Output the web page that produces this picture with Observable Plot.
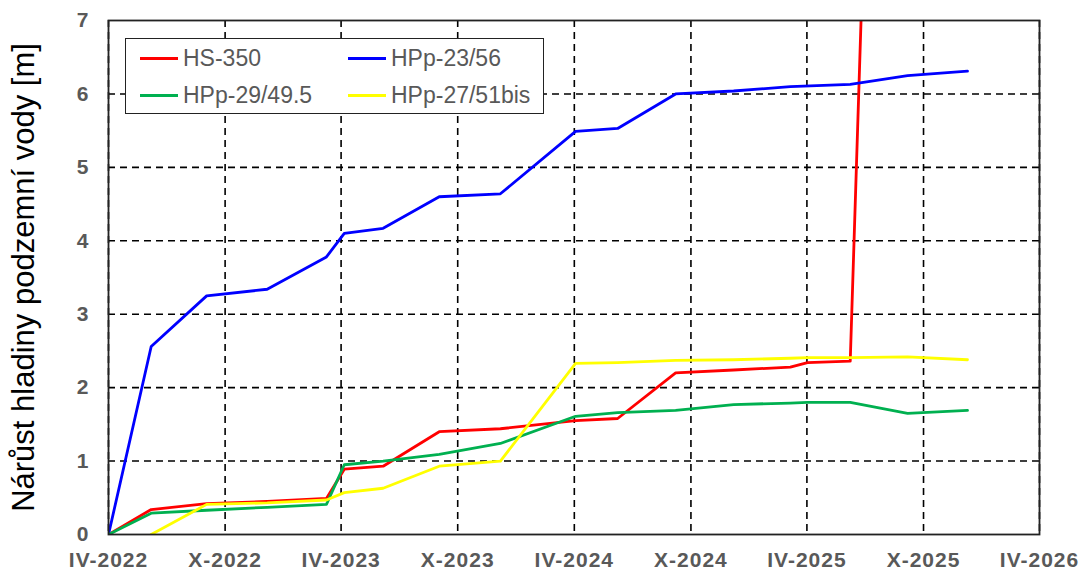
<!DOCTYPE html>
<html><head><meta charset="utf-8">
<script src="https://cdn.jsdelivr.net/npm/d3@7"></script>
<script src="https://cdn.jsdelivr.net/npm/@observablehq/plot@0.6"></script>
<style>
body{margin:0;background:#fff;font-family:"Liberation Sans",Arial,sans-serif;}
#wrap{position:relative;width:1086px;height:573px;}
#legend{position:absolute;left:125px;top:38px;width:419px;height:76px;box-sizing:border-box;border:1.5px solid #222;background:#fff;}
.item{position:absolute;display:flex;align-items:center;font-size:23px;line-height:26px;color:#595959;white-space:nowrap;}
.sw{width:38px;height:3px;margin-right:5px;}
[aria-label="x-axis tick label"]{letter-spacing:1px;}
</style></head>
<body><div id="wrap"><div id="legend"></div></div>
<script>
// measurement dates
const dates = ["2022-04-01","2022-06-07","2022-09-02","2022-12-06","2023-03-09","2023-04-06","2023-06-06","2023-09-02","2023-12-07","2024-04-03","2024-06-08","2024-09-07","2024-12-07","2025-03-06","2025-04-02","2025-06-08","2025-09-06","2025-12-09"];
// series values [m] (null = no measurement)
const hs350   = [0, 0.34, 0.42, 0.45, 0.49, 0.89, 0.93, 1.40, 1.44, 1.55, 1.58, 2.20, 2.24, 2.28, 2.34, 2.36, 27, null];
const hpp2356 = [0, 2.56, 3.25, 3.34, 3.78, 4.10, 4.17, 4.60, 4.64, 5.49, 5.53, 6.00, 6.04, 6.10, null, 6.13, 6.25, 6.31];
const hpp2949 = [0, 0.29, 0.33, 0.37, 0.41, 0.95, 1.00, 1.09, 1.24, 1.61, 1.66, 1.69, 1.77, 1.79, 1.80, 1.80, 1.65, 1.69];
const hpp2751 = [null, 0, 0.41, 0.43, 0.47, 0.57, 0.63, 0.93, 1.00, 2.33, 2.34, 2.37, 2.38, 2.40, 2.41, 2.41, 2.42, 2.38];
const seriesNames = ["HS-350", "HPp-23/56", "HPp-29/49.5", "HPp-27/51bis"];
const seriesColors = ["#ff0000", "#0000ff", "#00b050", "#ffff00"];
const seriesValues = [hs350, hpp2356, hpp2949, hpp2751];
// axis ticks
const tickDates = ["2022-04-01","2022-10-01","2023-04-01","2023-10-01","2024-04-01","2024-10-01","2025-04-01","2025-10-01","2026-04-01"];
const tickLabels = ["IV-2022","X-2022","IV-2023","X-2023","IV-2024","X-2024","IV-2025","X-2025","IV-2026"];
const yTicks = [0, 1, 2, 3, 4, 5, 6, 7];
const yTitle = "Nárůst hladiny podzemní vody [m]";

const table = [];
seriesNames.forEach((s, k) => {
  seriesValues[k].forEach((v, i) => {
    if (v != null) table.push({series: s, date: new Date(dates[i]), value: v});
  });
});
const tickD = tickDates.map(d => new Date(d));

const chart = Plot.plot({
  width: 1086, height: 573,
  marginLeft: 108, marginRight: 47, marginTop: 20, marginBottom: 39,
  style: {fontFamily: '"Liberation Sans", Arial, sans-serif', background: "transparent"},
  x: {type: "utc", domain: [tickD[0], tickD[tickD.length - 1]]},
  y: {domain: [0, 7]},
  color: {domain: seriesNames, range: seriesColors},
  marks: [
    Plot.gridX(tickD, {stroke: "#000", strokeOpacity: 1, strokeWidth: 1.6, strokeDasharray: "7,5"}),
    Plot.gridY(yTicks.slice(1, -1), {stroke: "#000", strokeOpacity: 1, strokeWidth: 1.6, strokeDasharray: "7,5"}),
    Plot.line(table, {x: "date", y: "value", z: "series", stroke: "series", strokeWidth: 2.8, clip: true}),
    Plot.frame({stroke: "#222", strokeWidth: 1.8}),
    Plot.axisY(yTicks, {tickSize: 0, tickPadding: 20, fontSize: 21, fontWeight: "bold", color: "#595959", label: null,
      tickFormat: d => String(d)}),
    Plot.axisX(tickD, {tickSize: 0, tickPadding: 18, fontSize: 21, fontWeight: "bold", color: "#595959", label: null,
      tickFormat: d => tickLabels[tickD.findIndex(t => +t === +d)]}),
    Plot.text([yTitle], {frameAnchor: "left", rotate: -90, dx: -84, fontSize: 31, fill: "#000", textAnchor: "middle", lineAnchor: "middle"})
  ]
});
const wrap = document.getElementById("wrap");
wrap.insertBefore(chart, wrap.firstChild);

// legend
const legend = document.getElementById("legend");
const pos = [[14, 6], [222, 6], [14, 43], [222, 43]];
seriesNames.forEach((s, k) => {
  const it = document.createElement("div");
  it.className = "item";
  it.style.left = pos[k][0] + "px";
  it.style.top = pos[k][1] + "px";
  it.innerHTML = `<span class="sw" style="background:${seriesColors[k]}"></span><span>${s}</span>`;
  legend.appendChild(it);
});
</script>
</body></html>
